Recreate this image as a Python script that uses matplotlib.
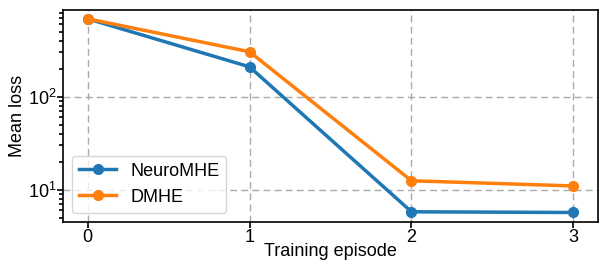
import numpy as np
import matplotlib
matplotlib.use("Agg")
import matplotlib.pyplot as plt

episodes = [0, 1, 2, 3]
neuromhe_loss = [690, 210, 5.8, 5.7]
dmhe_loss = [690, 305, 12.5, 11.0]

plt.rcParams['font.family'] = ['Liberation Sans', 'DejaVu Sans']
plt.rcParams['font.size'] = 13
plt.rcParams['mathtext.fontset'] = 'custom'
plt.rcParams['mathtext.rm'] = 'Liberation Sans'
plt.rcParams['mathtext.it'] = 'Liberation Sans:italic'

fig, ax = plt.subplots(figsize=(6.02, 2.6), dpi=100)
ax.plot(episodes, neuromhe_loss, '-o', color='#1f77b4', linewidth=2.5, markersize=7, label='NeuroMHE')
ax.plot(episodes, dmhe_loss, '-o', color='#ff7f0e', linewidth=2.5, markersize=7, label='DMHE')
ax.set_yscale('log')
ax.set_ylim(4.5, 860)
ax.set_xticks(episodes)
ax.set_xlabel('Training episode', fontsize=13, labelpad=-2.5)
ax.set_ylabel('Mean loss', fontsize=13, labelpad=1)
ax.grid(True, which='major', linestyle=(0, (5, 3)), color='#aaaaaa', linewidth=1)
ax.tick_params(which='major', length=4, width=1.2, pad=1, colors='black')
ax.tick_params(which='minor', length=3, width=1.2)
for s in ax.spines.values():
    s.set_linewidth(1.2)
ax.legend(loc='lower left', fontsize=13)
fig.subplots_adjust(left=0.105, right=0.993, top=0.962, bottom=0.146)
fig.savefig('out.png', dpi=100)
